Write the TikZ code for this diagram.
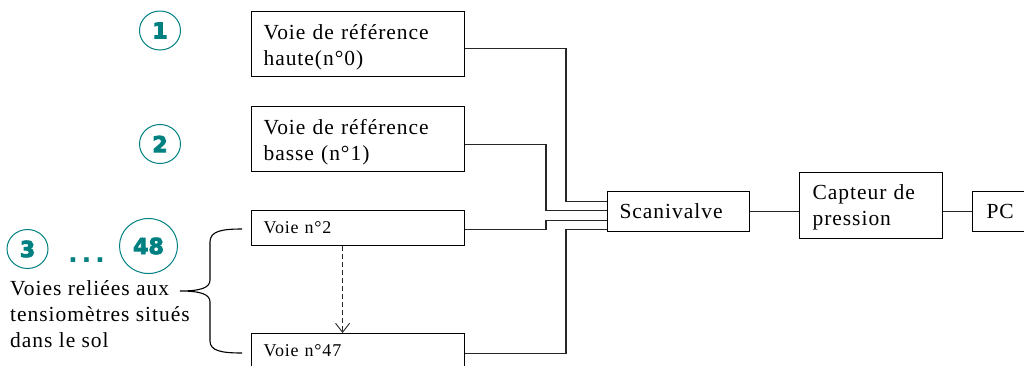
\documentclass[tikz,border=0pt]{standalone}
\usepackage{fontspec}
\setmainfont{Liberation Serif}[LetterSpace=4.5]
\font\numfontA="DejaVu Sans Bold:embolden=4" at 22pt
\newfontfamily\dotfont{Liberation Sans Bold}
\usetikzlibrary{arrows.meta,shapes.geometric}
\definecolor{tealc}{RGB}{0,128,128}
\begin{document}
\begin{tikzpicture}[x=1pt,y=-1pt,
  box/.style={draw, line width=1.1pt, anchor=north west, align=left, inner xsep=12pt, inner ysep=0pt, font=\fontsize{21.5}{26}\selectfont},
  smallbox/.style={box, font=\fontsize{18}{22}\selectfont},
  num/.style={draw=tealc, line width=1pt, ellipse, minimum width=41pt, minimum height=39pt, inner sep=0pt, text=tealc, font=\numfontA},
  wire/.style={line width=1.1pt, draw=black!85}]
\useasboundingbox (0,0) rectangle (1024,365);
\clip (0,0) rectangle (1024,365);
% boxes
\node[box, text width=189pt, minimum height=65pt] (b1) at (251,11) {\rule{0pt}{21.6pt}Voie de référence\\haute(n°0)};
\node[box, text width=189pt, minimum height=65pt] (b2) at (251,106) {\rule{0pt}{21.6pt}Voie de référence\\basse (n°1)};
\node[smallbox, text width=189pt, minimum height=35pt] (v2) at (251,210) {Voie n°2};
\node[smallbox, text width=189pt, minimum height=35pt] (v47) at (251,333) {Voie n°47};
\node[box, text width=118pt, minimum height=40pt] (scan) at (607,191) {Scanivalve};
\node[box, inner xsep=13pt, text width=117pt, minimum height=66pt] (cap) at (799,172) {\rule{0pt}{18.7pt}Capteur de\\pression};
\node[box, inner xsep=14pt, text width=72pt, minimum height=40pt] (pc) at (972,191) {PC};
% junctions
\coordinate (j1) at (566,0);
\coordinate (j2) at (546,0);
\coordinate (s1) at ([yshift=10pt]scan.west);
\coordinate (s2) at ([yshift=1pt]scan.west);
\coordinate (s3) at ([yshift=-9pt]scan.west);
\coordinate (s4) at ([yshift=-18pt]scan.west);
\draw[wire] ([yshift=-4.5pt]b1.east) -| (s1 -| j1) -- (s1);
\draw[wire] ([yshift=-5.5pt]b2.east) -| (s2 -| j2) -- (s2);
\draw[wire] ([yshift=-1.5pt]v2.east) -| (s3 -| j2) -- (s3);
\draw[wire] ([yshift=-2.5pt]v47.east) -| (s4 -| j1) -- (s4);
\draw[wire] (scan.east) -- (scan.east -| cap.west);
\draw[wire] (cap.east |- pc.west) -- (pc.west);
\draw[wire, line width=0.9pt, dash pattern=on 5pt off 3pt, -{Straight Barb[length=9pt,width=14pt]}]
  ([xshift=-15.5pt]v2.south) -- ([xshift=-15.5pt]v47.north);
% numbers
\node[num] (n1) at (160,30.5) {1};
\node[num] (n2) at (160,144) {2};
\node[num] (n3) at (27.5,249) {3};
\node[num, minimum width=58pt, minimum height=55pt] (n48) at (148.5,246) {48};
\node[anchor=base, inner sep=0pt, text=tealc, font=\dotfont\fontsize{32}{34}\selectfont] (dots) at (86.5,262) {.\hspace{4.6pt}.\hspace{4.6pt}.};
% label and brace
\node[anchor=north west, align=left, inner sep=0pt, font=\fontsize{21.5}{26}\selectfont] (lbl) at (10,280) {Voies reliées aux\\tensiomètres situés\\dans le sol};
\draw[line width=1.1pt] (242,229) .. controls (222,229) and (210,231) .. (210,242) -- (210,280)
  .. controls (210,288) and (200,291) .. (180,291)
  .. controls (200,291) and (210,294) .. (210,302) -- (210,341)
  .. controls (210,351) and (222,353) .. (242,353);
\end{tikzpicture}
\end{document}
